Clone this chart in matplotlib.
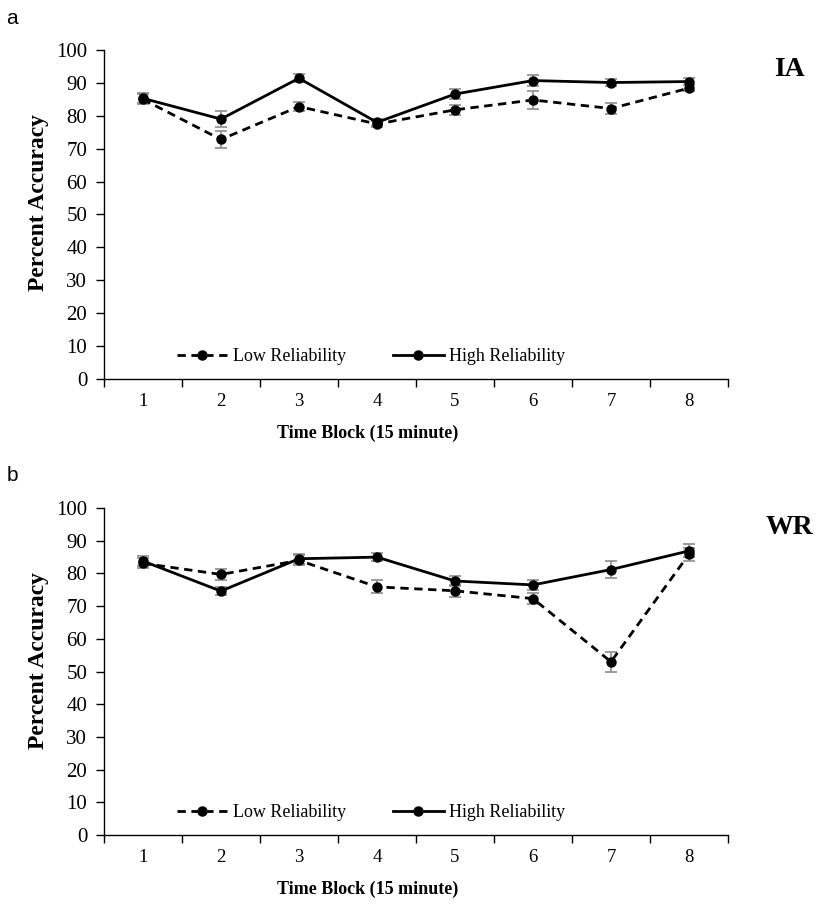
import matplotlib
matplotlib.use("Agg")
import matplotlib.pyplot as plt
from matplotlib.ticker import FixedLocator, NullFormatter, FixedFormatter
import numpy as np

plt.rcParams["font.family"] = ["Liberation Serif", "DejaVu Serif"]

blocks = [1, 2, 3, 4, 5, 6, 7, 8]
block_labels = ["1", "2", "3", "4", "5", "6", "7", "8"]

# panel a (IA)
ia_low = [85.0, 72.8, 82.8, 77.5, 81.8, 84.8, 82.2, 88.4]
ia_low_err = [1.5, 2.6, 1.5, 1.0, 1.5, 2.7, 1.6, 1.0]
ia_high = [85.3, 79.0, 91.4, 78.0, 86.6, 90.7, 90.1, 90.4]
ia_high_err = [1.5, 2.3, 1.2, 1.0, 1.5, 1.8, 1.0, 1.2]

# panel b (WR)
wr_low = [83.1, 79.7, 84.0, 75.9, 74.7, 72.3, 53.0, 85.9]
wr_low_err = [1.5, 1.6, 1.5, 2.0, 1.8, 1.6, 3.0, 2.0]
wr_high = [83.8, 74.6, 84.5, 85.0, 77.7, 76.5, 81.2, 86.9]
wr_high_err = [1.5, 1.3, 1.5, 1.3, 1.5, 1.5, 2.7, 2.0]

err_color = "#8c8c8c"


def draw_panel(ax, low, low_err, high, high_err, tag):
    ax.errorbar(blocks, low, yerr=low_err, fmt="none", ecolor=err_color,
                elinewidth=1.2, capsize=4, capthick=1.2, zorder=2)
    ax.errorbar(blocks, high, yerr=high_err, fmt="none", ecolor=err_color,
                elinewidth=1.2, capsize=4, capthick=1.2, zorder=2)
    ax.plot(blocks, low, color="black", linestyle=(0, (3, 2)), linewidth=2,
            marker="o", markersize=6.5, label="Low Reliability", zorder=3)
    ax.plot(blocks, high, color="black", linestyle="-", linewidth=2,
            marker="o", markersize=6.5, label="High Reliability", zorder=3)

    ax.set_xlim(0.5, 8.5)
    ax.set_ylim(0, 100)
    ax.set_yticks(np.arange(0, 101, 10))
    ax.tick_params(axis="y", labelsize=15, length=6, width=1, direction="out", pad=6)

    ax.xaxis.set_major_locator(FixedLocator(np.arange(0.5, 8.6, 1)))
    ax.xaxis.set_major_formatter(NullFormatter())
    ax.xaxis.set_minor_locator(FixedLocator(blocks))
    ax.xaxis.set_minor_formatter(FixedFormatter(block_labels))
    ax.tick_params(axis="x", which="major", length=6, width=1, direction="out")
    ax.tick_params(axis="x", which="minor", length=0, labelsize=13.5, pad=10)

    for s in ["top", "right"]:
        ax.spines[s].set_visible(False)
    for s in ["left", "bottom"]:
        ax.spines[s].set_linewidth(1)

    ax.set_ylabel("Percent Accuracy", fontsize=17, fontweight="bold")
    ax.yaxis.set_label_coords(-0.088, 0.535)
    ax.set_xlabel("Time Block (15 minute)", fontsize=13, fontweight="bold")
    ax.xaxis.set_label_coords(0.422, -0.14)

    ax.legend(loc="center", bbox_to_anchor=(0.428, 0.068), ncol=2, frameon=False,
              fontsize=13, handlelength=2.8, handletextpad=0.3, columnspacing=2.6)

    ax.text(1.098, 0.94, tag, transform=ax.transAxes, fontsize=20,
            fontweight="bold", ha="center", va="center")


fig = plt.figure(figsize=(8.18, 9.05), dpi=100)
ax1 = fig.add_axes([0.127, 0.5812, 0.763, 0.3636])
ax2 = fig.add_axes([0.127, 0.0773, 0.763, 0.3613])

draw_panel(ax1, ia_low, ia_low_err, ia_high, ia_high_err, "IA")
draw_panel(ax2, wr_low, wr_low_err, wr_high, wr_high_err, "WR")

fig.text(0.008, 0.980, "a", fontsize=15, family="Liberation Sans", va="center")
fig.text(0.008, 0.475, "b", fontsize=15, family="Liberation Sans", va="center")

fig.savefig("out.png", dpi=100)
